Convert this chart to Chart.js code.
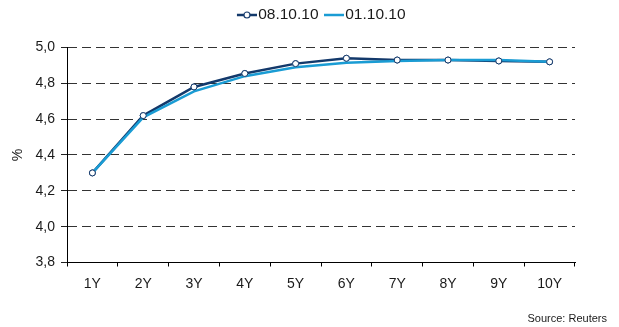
<!DOCTYPE html>
<html>
<head>
<meta charset="utf-8">
<script src="https://cdn.jsdelivr.net/npm/chart.js@4.4.1/dist/chart.umd.min.js"></script>
<style>
  html, body { margin: 0; padding: 0; background: #ffffff; }
  #wrap { width: 619px; height: 327px; position: relative; }
</style>
</head>
<body>
<div id="wrap"><canvas id="curve"></canvas></div>
<script>
// Yield curve by tenor, two observation dates
const tenors = ['1Y', '2Y', '3Y', '4Y', '5Y', '6Y', '7Y', '8Y', '9Y', '10Y'];
const curve081010 = [4.30, 4.62, 4.78, 4.855, 4.91, 4.94, 4.93, 4.93, 4.925, 4.92];
const curve011010 = [4.30, 4.61, 4.755, 4.84, 4.89, 4.915, 4.925, 4.93, 4.93, 4.92];
const seriesNames = ['08.10.10', '01.10.10'];
const yTickValues = [3.8, 4.0, 4.2, 4.4, 4.6, 4.8, 5.0];
const sourceNote = 'Source: Reuters';

const DARK = '#13396b';
const LIGHT = '#1a9cd4';
const FONT = '"Liberation Sans", Arial, sans-serif';

// Legend swatches: a short line sitting close to its label,
// with a hollow marker for the marked series
function swatch(color, withMarker) {
  const c = document.createElement('canvas');
  c.width = 27; c.height = 10;
  const g = c.getContext('2d');
  g.strokeStyle = color; g.lineWidth = 2.5;
  g.beginPath(); g.moveTo(7, 5); g.lineTo(27, 5); g.stroke();
  if (withMarker) {
    g.fillStyle = '#ffffff'; g.lineWidth = 1.2;
    g.beginPath(); g.arc(17, 5, 3, 0, Math.PI * 2); g.fill(); g.stroke();
  }
  return c;
}
const swatches = [swatch(DARK, true), swatch(LIGHT, false)];

// Hollow markers of the first series stay visible above the second line
const markersOnTop = {
  id: 'markersOnTop',
  afterDatasetsDraw(chart) {
    const meta = chart.getDatasetMeta(0);
    meta.data.forEach(pt => pt.draw(chart.ctx, chart.chartArea));
  }
};

// Source line in the bottom right corner
const sourceText = {
  id: 'sourceText',
  afterDraw(chart) {
    const ctx = chart.ctx;
    ctx.save();
    ctx.font = '11px ' + FONT;
    ctx.fillStyle = '#1a1a1a';
    ctx.textAlign = 'right';
    ctx.textBaseline = 'middle';
    ctx.fillText(sourceNote, 607, 319);
    ctx.restore();
  }
};

new Chart(document.getElementById('curve'), {
  type: 'line',
  data: {
    labels: tenors,
    datasets: [
      {
        label: seriesNames[0],
        data: curve081010,
        borderColor: DARK,
        borderWidth: 2.5,
        pointRadius: 3,
        pointBorderWidth: 1,
        pointBackgroundColor: '#ffffff',
        pointBorderColor: DARK,
        tension: 0,
        order: 1
      },
      {
        label: seriesNames[1],
        data: curve011010,
        borderColor: LIGHT,
        borderWidth: 2.5,
        pointRadius: 0,
        tension: 0,
        order: 0
      }
    ]
  },
  options: {
    responsive: true,
    maintainAspectRatio: false,
    animation: false,
    layout: { padding: { left: 0, right: 44, top: 2.25, bottom: 0 } },
    plugins: {
      tooltip: { enabled: false },
      legend: {
        position: 'top',
        fullSize: false,
        labels: {
          usePointStyle: true,
          pointStyleWidth: 14,
          padding: 5,
          color: '#1a1a1a',
          font: { family: FONT, size: 15.5 },
          generateLabels(chart) {
            return chart.data.datasets.map((ds, i) => ({
              text: ds.label,
              pointStyle: swatches[i],
              fillStyle: ds.borderColor,
              strokeStyle: ds.borderColor,
              lineWidth: 0,
              hidden: false,
              datasetIndex: i,
              fontColor: '#1a1a1a'
            }));
          }
        }
      },
      // blank band between the legend and the plot
      subtitle: {
        display: true,
        fullSize: false,
        text: '',
        weight: 500,
        font: { size: 10, lineHeight: 1 },
        padding: { top: 4.75, bottom: 0 }
      }
    },
    scales: {
      x: {
        offset: true,
        grid: {
          offset: true,
          drawOnChartArea: false,
          tickLength: 4,
          color: '#000000'
        },
        border: { color: '#000000', width: 1 },
        ticks: {
          color: '#1a1a1a',
          padding: 9,
          font: { family: FONT, size: 14 },
          maxRotation: 0
        },
        afterFit(scale) { scale.height = 64.5; }
      },
      y: {
        min: 3.8,
        max: 5.0,
        afterBuildTicks(scale) {
          scale.ticks = yTickValues.map(v => ({ value: v }));
        },
        grid: {
          color: '#333333',
          lineWidth: 1,
          tickLength: 6,
          tickColor: '#222222'
        },
        border: { color: '#000000', width: 1, dash: [9, 5] },
        ticks: {
          color: '#1a1a1a',
          padding: 6,
          font: { family: FONT, size: 14 },
          callback: v => Number(v).toFixed(1).replace('.', ',')
        },
        title: {
          display: true,
          text: '%',
          color: '#1a1a1a',
          font: { family: FONT, size: 14 },
          padding: { top: 10, bottom: 0 }
        },
        afterFit(scale) { scale.width = 67; }
      }
    }
  },
  plugins: [markersOnTop, sourceText]
});
</script>
</body>
</html>
